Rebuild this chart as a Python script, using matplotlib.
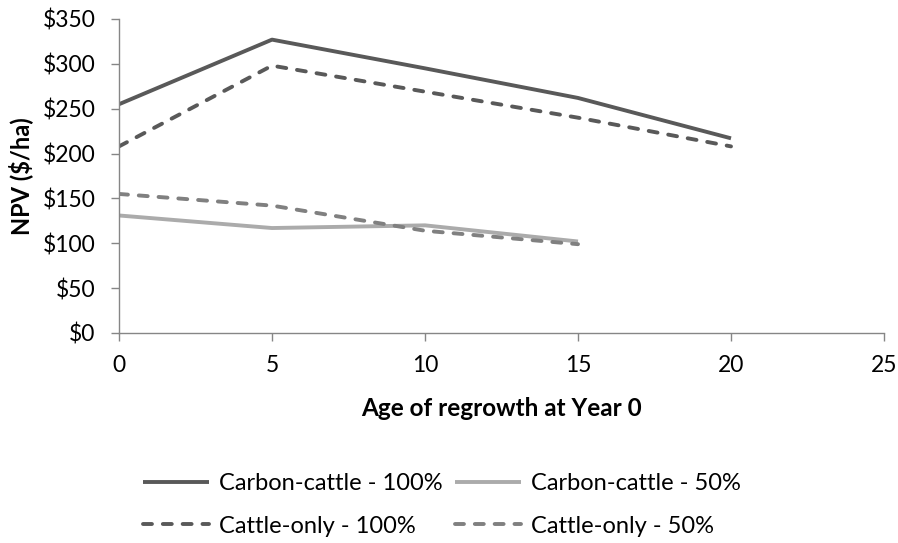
import matplotlib
matplotlib.use("Agg")
import matplotlib.pyplot as plt
from matplotlib.ticker import FuncFormatter

plt.rcParams['font.family'] = ['Lato', 'DejaVu Sans']

age = [0, 5, 10, 15, 20]
carbon_cattle_100 = [255, 327, 295, 262, 217]
cattle_only_100 = [208, 298, 269, 240, 208]
age_50 = [0, 5, 10, 15]
carbon_cattle_50 = [131, 117, 120, 102]
cattle_only_50 = [155, 142, 114, 99]

W, H = 898, 543
fig = plt.figure(figsize=(W / 100, H / 100), dpi=100)
ax = fig.add_axes([119 / W, 1 - 333 / H, (884 - 119) / W, (333 - 19) / H])

lw = 2.8
dash = (0, (2.3, 2.8))
l1, = ax.plot(age, carbon_cattle_100, color='#595959', lw=lw, solid_capstyle='butt')
l2, = ax.plot(age_50, carbon_cattle_50, color='#ABABAB', lw=lw, solid_capstyle='butt')
l3, = ax.plot(age, cattle_only_100, color='#595959', lw=lw, ls=dash, dash_capstyle='round')
l4, = ax.plot(age_50, cattle_only_50, color='#808080', lw=lw, ls=dash, dash_capstyle='round')

ax.set_xlim(0, 25)
ax.set_ylim(0, 350)
ax.set_xticks(range(0, 26, 5))
ax.set_yticks(range(0, 351, 50))
ax.yaxis.set_major_formatter(FuncFormatter(lambda v, p: f'${int(v)}'))

for s in ['top', 'right']:
    ax.spines[s].set_visible(False)
for s in ['left', 'bottom']:
    ax.spines[s].set_color('#868686')
    ax.spines[s].set_linewidth(1.0)
ax.tick_params(axis='both', colors='#868686', length=6, width=1.0,
               labelsize=16.5, labelcolor='#000000')
ax.tick_params(axis='y', pad=11)
ax.tick_params(axis='x', pad=10)

ax.set_xlabel('Age of regrowth at Year 0', fontsize=17.5, fontweight='bold', labelpad=15)
ax.set_ylabel('NPV ($/ha)', fontsize=17, fontweight='bold', labelpad=7)

legend_kw = dict(frameon=False, fontsize=17, loc='center left',
                 handlelength=2.8, handletextpad=0.4, labelspacing=0.9,
                 borderpad=0, borderaxespad=0)
fig.legend([l1, l3], ['Carbon-cattle - 100%', 'Cattle-only - 100%'],
           bbox_to_anchor=(143 / W, 1 - 505 / H), **legend_kw)
fig.legend([l2, l4], ['Carbon-cattle - 50%', 'Cattle-only - 50%'],
           bbox_to_anchor=(455 / W, 1 - 505 / H), **legend_kw)

fig.savefig('out.png', dpi=100)
